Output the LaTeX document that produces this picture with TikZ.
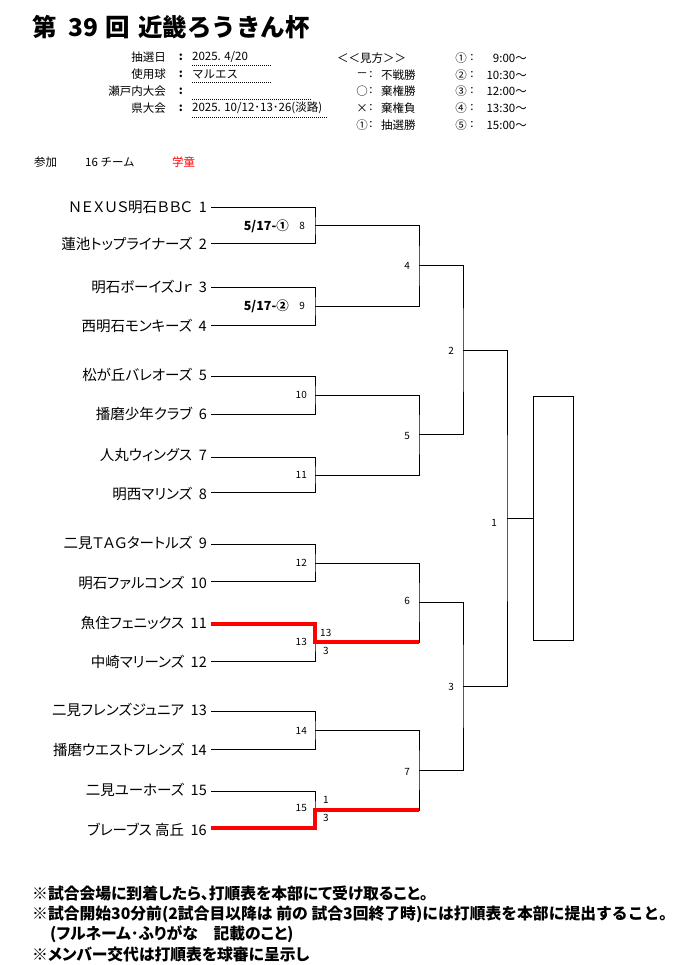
\documentclass[tikz,border=0pt]{standalone}
\usepackage{fontspec}
\setmainfont{Noto Sans CJK JP}
\newfontfamily\jp{Noto Sans CJK JP}
\newfontfamily\jpp[RawFeature=+palt]{Noto Sans CJK JP}
\definecolor{winred}{HTML}{FF0000}
\newcommand{\sn}[1]{\hspace{6.5pt}#1}
\begin{document}
\begin{tikzpicture}[x=1pt,y=-1pt,
  wire/.style={line width=1pt,black},
  win/.style={line width=4pt,winred},
  team/.style={anchor=east,inner sep=0pt,font=\jpp\fontsize{14.5}{16}\selectfont},
  mnum/.style={inner sep=0pt,font=\jp\fontsize{10}{11}\selectfont},
  score/.style={inner sep=0pt,font=\jp\fontsize{10}{11}\selectfont},
  dateb/.style={anchor=east,inner sep=0pt,font=\jp\bfseries\fontsize{12.5}{13}\selectfont},
  hdr/.style={inner sep=0pt,font=\jp\fontsize{11.5}{13}\selectfont},
  foot/.style={anchor=west,inner sep=0pt,font=\jpp\bfseries\fontsize{15.8}{17}\selectfont},
  dotl/.style={line width=0.8pt,dash pattern=on 1pt off 1pt}]
\useasboundingbox (0,0) rectangle (694,965);
\fill[white] (0,0) rectangle (694,965);

% title
\node[anchor=west,inner sep=0pt,font=\jp\bfseries\fontsize{24.5}{28}\selectfont] (title) at (32,27) {第\hspace{12pt}39\hspace{7pt}回\hspace{8pt}近畿ろうきん杯};

% header info
\node[hdr,anchor=east] (h1) at (166,57) {抽選日};
\node[hdr,anchor=east] (h2) at (166,74) {使用球};
\node[hdr,anchor=east] (h3) at (166,91) {瀬戸内大会};
\node[hdr,anchor=east] (h4) at (166,108) {県大会};
\node[hdr,font=\jp\bfseries\fontsize{11.5}{13}\selectfont] (c1) at (181,57) {:};
\node[hdr,font=\jp\bfseries\fontsize{11.5}{13}\selectfont] (c2) at (181,74) {:};
\node[hdr,font=\jp\bfseries\fontsize{11.5}{13}\selectfont] (c3) at (181,91) {:};
\node[hdr,font=\jp\bfseries\fontsize{11.5}{13}\selectfont] (c4) at (181,108) {:};
\node[hdr,anchor=west] (v1) at (192,57) {2025. 4/20};
\node[hdr,anchor=west] (v2) at (192,74) {マルエス};
\node[hdr,anchor=west] (v4) at (192,108) {2025. 10/12･13･26(淡路)};
\coordinate (d1a) at (192,65); \coordinate (d1b) at (271,65);
\coordinate (d2a) at (192,82); \coordinate (d2b) at (271,82);
\coordinate (d3a) at (192,99); \coordinate (d3b) at (312,99);
\coordinate (d4a) at (192,117); \coordinate (d4b) at (328,117);
\draw[dotl] (d1a) -- (d1b);
\draw[dotl] (d2a) -- (d2b);
\draw[dotl] (d3a) -- (d3b);
\draw[dotl] (d4a) -- (d4b);

% legend
\node[hdr,anchor=west] (lg) at (337,58) {＜＜見方＞＞};
\node[hdr] (s1) at (362,75) {－};
\node[hdr] (s2) at (362,91) {○};
\node[hdr] (s3) at (362,108) {×};
\node[hdr] (s4) at (362,125) {①};
\node[hdr] (sc1) at (371,75) {:};
\node[hdr] (sc2) at (371,91) {:};
\node[hdr] (sc3) at (371,108) {:};
\node[hdr] (sc4) at (371,125) {:};
\node[hdr,anchor=west] (l1) at (381,75) {不戦勝};
\node[hdr,anchor=west] (l2) at (381,91) {棄権勝};
\node[hdr,anchor=west] (l3) at (381,108) {棄権負};
\node[hdr,anchor=west] (l4) at (381,125) {抽選勝};
\node[hdr] (n1) at (461,58) {①};
\node[hdr] (n2) at (461,75) {②};
\node[hdr] (n3) at (461,91) {③};
\node[hdr] (n4) at (461,108) {④};
\node[hdr] (n5) at (461,125) {⑤};
\node[hdr] (nc1) at (472,58) {:};
\node[hdr] (nc2) at (472,75) {:};
\node[hdr] (nc3) at (472,91) {:};
\node[hdr] (nc4) at (472,108) {:};
\node[hdr] (nc5) at (472,125) {:};
\node[hdr,anchor=east] (tm1) at (527,58) {9:00～};
\node[hdr,anchor=east] (tm2) at (527,75) {10:30～};
\node[hdr,anchor=east] (tm3) at (527,91) {12:00～};
\node[hdr,anchor=east] (tm4) at (527,108) {13:30～};
\node[hdr,anchor=east] (tm5) at (527,125) {15:00～};

% participants
\node[hdr,anchor=west] (p1) at (34,162) {参加};
\node[hdr,anchor=west] (p2) at (85,162) {16 チーム};
\node[hdr,anchor=west,text=winred] (p3) at (172,162) {学童};

% team line start points
\coordinate (t1) at (211,208);
\coordinate (t2) at (211,244);
\coordinate (t3) at (211,287);
\coordinate (t4) at (211,325);
\coordinate (t5) at (211,376);
\coordinate (t6) at (211,414);
\coordinate (t7) at (211,457);
\coordinate (t8) at (211,492);
\coordinate (t9) at (211,544);
\coordinate (t10) at (211,581);
\coordinate (t11) at (211,624);
\coordinate (t12) at (211,661);
\coordinate (t13) at (211,711);
\coordinate (t14) at (211,749);
\coordinate (t15) at (211,791);
\coordinate (t16) at (211,828);
% junctions
\coordinate (m8) at (315,226);
\coordinate (m9) at (315,306);
\coordinate (m10) at (315,395);
\coordinate (m11) at (315,475);
\coordinate (m12) at (315,563);
\coordinate (m13) at (315,642);
\coordinate (m14) at (315,730);
\coordinate (m15) at (315,810);
\coordinate (m4) at (419,266);
\coordinate (m5) at (419,434);
\coordinate (m6) at (419,602);
\coordinate (m7) at (419,770);
\coordinate (m2) at (463,350);
\coordinate (m3) at (463,686);
\coordinate (m1) at (507,518);

% team names
\node[team] (n-t1) at (207,207) {ＮＥＸＵＳ明石ＢＢＣ\sn{1}};
\node[team] (n-t2) at (207,244) {蓮池トップライナーズ\sn{2}};
\node[team] (n-t3) at (207,287) {明石ボーイズＪｒ\sn{3}};
\node[team] (n-t4) at (207,326) {西明石モンキーズ\sn{4}};
\node[team] (n-t5) at (207,375) {松が丘バレオーズ\sn{5}};
\node[team] (n-t6) at (207,414) {播磨少年クラブ\sn{6}};
\node[team] (n-t7) at (207,455) {人丸ウィングス\sn{7}};
\node[team] (n-t8) at (207,494) {明西マリンズ\sn{8}};
\node[team] (n-t9) at (207,543) {二見ＴＡＧタートルズ\sn{9}};
\node[team] (n-t10) at (207,583) {明石ファルコンズ\sn{10}};
\node[team] (n-t11) at (207,623) {魚住フェニックス\sn{11}};
\node[team] (n-t12) at (207,662) {中崎マリーンズ\sn{12}};
\node[team] (n-t13) at (207,710) {二見フレンズジュニア\sn{13}};
\node[team] (n-t14) at (207,750) {播磨ウエストフレンズ\sn{14}};
\node[team] (n-t15) at (207,790) {二見ユーホーズ\sn{15}};
\node[team] (n-t16) at (207,830) {ブレーブス 高丘\sn{16}};

% bracket round 1
\draw[wire] (t1) -| (m8) |- (t2);
\draw[wire] (t3) -| (m9) |- (t4);
\draw[wire] (t5) -| (m10) |- (t6);
\draw[wire] (t7) -| (m11) |- (t8);
\draw[wire] (t9) -| (m12) |- (t10);
\draw[wire] (t11) -| (m13) |- (t12);
\draw[wire] (t13) -| (m14) |- (t14);
\draw[wire] (t15) -| (m15) |- (t16);
% round 2
\draw[wire] (m8) -| (m4) |- (m9);
\draw[wire] (m10) -| (m5) |- (m11);
\draw[wire] (m12) -| (m6) |- (m13);
\draw[wire] (m14) -| (m7) |- (m15);
% round 3
\draw[wire] (m4) -| (m2) |- (m5);
\draw[wire] (m6) -| (m3) |- (m7);
% final
\draw[wire] (m2) -| (m1) |- (m3);
\node[draw,line width=1pt,minimum width=40pt,minimum height=244pt,inner sep=0pt,anchor=west] (champ) at (533,518) {};
\draw[wire] (m1) -- (champ.west);

% winners (red)
\draw[win] (t11) -| (m13) -- (m13 -| m6);
\draw[win] (t16) -| (m15) -- (m15 -| m7);

% match numbers
\node[dateb] (d8) at (289,226) {5/17-①};
\node[dateb] (d9) at (289,306) {5/17-②};
\node[mnum,anchor=east] (g8) at (305,226) {8};
\node[mnum,anchor=east] (g9) at (305,306) {9};
\node[mnum,anchor=east] (g10) at (307,395) {10};
\node[mnum,anchor=east] (g11) at (307,475) {11};
\node[mnum,anchor=east] (g12) at (307,563) {12};
\node[mnum,anchor=east] (g13) at (307,642) {13};
\node[mnum,anchor=east] (g14) at (307,731) {14};
\node[mnum,anchor=east] (g15) at (307,808) {15};
\node[mnum,anchor=east] (g4) at (410,266) {4};
\node[mnum,anchor=east] (g5) at (410,436) {5};
\node[mnum,anchor=east] (g6) at (410,601) {6};
\node[mnum,anchor=east] (g7) at (410,772) {7};
\node[mnum,anchor=east] (g2) at (454,351) {2};
\node[mnum,anchor=east] (g3) at (454,687) {3};
\node[mnum,anchor=east] (g1) at (497,523) {1};
% scores
\node[score,anchor=west] (s13a) at (320,633) {13};
\node[score,anchor=west] (s13b) at (323,651) {3};
\node[score,anchor=west] (s15a) at (323,800) {1};
\node[score,anchor=west] (s15b) at (323,818) {3};

% footer
\node[foot] (f1) at (32,893) {※試合会場に到着したら、打順表を本部にて受け取ること。};
\node[foot,font=\jp\bfseries\fontsize{15.8}{17}\selectfont] (f2) at (32,914) {※試合開始30分前(2試合目以降は 前の 試合3回終了時)には打順表を本部に提出すること。};
\node[foot] (f3) at (50,934) {(フルネーム･ふりがな　記載のこと)};
\node[foot] (f4) at (32,954) {※メンバー交代は打順表を球審に呈示し};
\end{tikzpicture}
\end{document}
